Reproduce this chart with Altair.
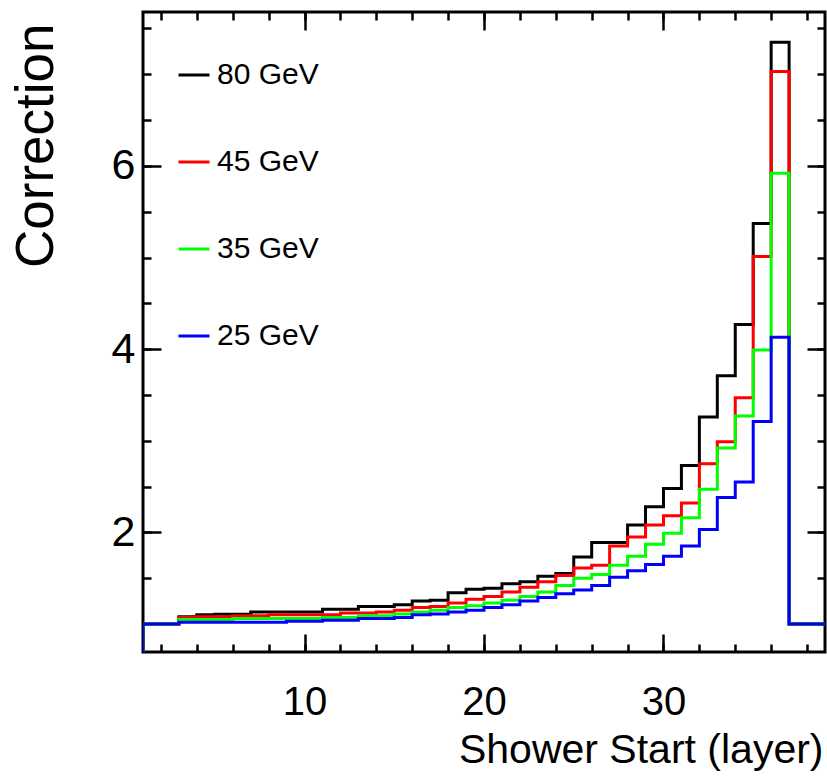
import altair as alt
import pandas as pd

# Shower-start layer bins: bin n covers [n, n+1), layers 1..38
bin_low = list(range(1, 39))

series_names = ["80 GeV", "45 GeV", "35 GeV", "25 GeV"]
series_colors = ["#000000", "#ff0000", "#00ff00", "#0000ff"]

corr_80 = [1.00, 1.00, 1.08, 1.10, 1.105, 1.105, 1.13, 1.13, 1.13, 1.13,
           1.16, 1.16, 1.19, 1.19, 1.21, 1.25, 1.26, 1.34, 1.38, 1.39,
           1.44, 1.46, 1.52, 1.55, 1.73, 1.89, 1.89, 2.08, 2.28, 2.48,
           2.73, 3.26, 3.71, 4.27, 5.37, 7.35, 1.00, 1.00]
corr_45 = [1.00, 1.00, 1.07, 1.08, 1.08, 1.09, 1.09, 1.10, 1.10, 1.10,
           1.10, 1.12, 1.12, 1.13, 1.15, 1.18, 1.19, 1.23, 1.27, 1.30,
           1.35, 1.40, 1.46, 1.53, 1.61, 1.64, 1.85, 1.95, 2.08, 2.18,
           2.32, 2.75, 2.99, 3.47, 5.01, 7.03, 1.00, 1.00]
corr_35 = [1.00, 1.00, 1.05, 1.05, 1.05, 1.06, 1.06, 1.06, 1.06, 1.06,
           1.07, 1.07, 1.09, 1.09, 1.11, 1.13, 1.15, 1.18, 1.20, 1.23,
           1.26, 1.30, 1.35, 1.42, 1.50, 1.54, 1.64, 1.74, 1.87, 1.99,
           2.16, 2.47, 2.92, 3.27, 3.99, 5.92, 1.00, 1.00]
corr_25 = [1.00, 1.00, 1.02, 1.02, 1.02, 1.02, 1.02, 1.02, 1.03, 1.03,
           1.04, 1.04, 1.06, 1.06, 1.07, 1.10, 1.11, 1.13, 1.15, 1.18,
           1.21, 1.25, 1.29, 1.33, 1.37, 1.42, 1.51, 1.58, 1.65, 1.74,
           1.85, 2.03, 2.38, 2.55, 3.21, 4.13, 1.00, 1.00]

x_major = [10, 20, 30]
x_minor = list(range(2, 39, 2))
y_major = [2, 4, 6]
y_minor = [1.0, 1.5, 2.0, 2.5, 3.0, 3.5, 4.0, 4.5, 5.0, 5.5, 6.0, 6.5, 7.0, 7.5]

x_range = [1, 39]
y_range = [0.694, 7.68]

FONT = "Liberation Sans, Arial, Helvetica, sans-serif"

# Build histogram outlines (step-after polylines), starting from the baseline
rows = []
for name, vals in zip(series_names, [corr_80, corr_45, corr_35, corr_25]):
    idx = 0
    rows.append({"series": name, "x": bin_low[0], "y": 0.0, "idx": idx})
    for lo, v in zip(bin_low, vals):
        idx += 1
        rows.append({"series": name, "x": lo, "y": v, "idx": idx})
    rows.append({"series": name, "x": bin_low[-1] + 1, "y": vals[-1], "idx": idx + 1})
df = pd.DataFrame(rows)

xscale = alt.Scale(domain=x_range, nice=False, zero=False)
yscale = alt.Scale(domain=y_range, nice=False, zero=False)


def tick_axis(orient, values, size):
    return alt.Axis(orient=orient, values=values, offset=-size, tickSize=size,
                    tickWidth=2.5, tickColor="black", labels=False,
                    domain=False, grid=False, title=None)


x_label_axis = alt.Axis(
    orient="bottom", values=x_major, ticks=False, domain=False, grid=False,
    format="d", labelFont=FONT, labelFontSize=40, labelColor="black",
    labelPadding=30, labelFlush=False, labelOverlap=False,
    title="Shower Start (layer)", titleFont=FONT, titleFontSize=41,
    titleFontWeight="normal", titleColor="black", titleX=680, titleY=110,
    titleAlign="right", titleBaseline="alphabetic")

y_label_axis = alt.Axis(
    orient="left", values=y_major, ticks=False, domain=False, grid=False,
    format="d", labelFont=FONT, labelFontSize=43, labelColor="black",
    labelPadding=8, labelFlush=False, labelOverlap=False,
    title="Correction", titleFont=FONT, titleFontSize=53,
    titleFontWeight="normal", titleColor="black", titleAngle=270,
    titleX=-91, titleY=11, titleAlign="right", titleBaseline="alphabetic")

legend = alt.Legend(
    title=None, orient="none", legendX=34, legendY=46, padding=0,
    symbolType="stroke", symbolSize=961, symbolStrokeWidth=3,
    labelFont=FONT, labelFontSize=30, labelColor="black",
    labelOffset=6, rowPadding=55, labelLimit=300)

base = alt.Chart(df)

lines = base.mark_line(interpolate="step-after", strokeWidth=3, clip=True).encode(
    x=alt.X("x:Q", scale=xscale, axis=x_label_axis),
    y=alt.Y("y:Q", scale=yscale, axis=y_label_axis),
    color=alt.Color("series:N",
                    scale=alt.Scale(domain=series_names, range=series_colors),
                    sort=series_names, legend=legend),
    order=alt.Order("idx:Q"),
)


def tick_layer(xorient, yorient, xvals, yvals, size):
    return base.mark_point(opacity=0, size=1).encode(
        x=alt.X("x:Q", scale=xscale, axis=tick_axis(xorient, xvals, size)),
        y=alt.Y("y:Q", scale=yscale, axis=tick_axis(yorient, yvals, size)),
    )


chart = alt.layer(
    lines,
    tick_layer("bottom", "left", x_major, y_major, 18),
    tick_layer("bottom", "left", x_minor, y_minor, 8),
    tick_layer("top", "right", x_major, y_major, 18),
    tick_layer("top", "right", x_minor, y_minor, 8),
).resolve_axis(
    x="independent", y="independent"
).properties(
    width=682, height=640,
    autosize=alt.AutoSizeParams(type="none"),
    padding={"left": 143, "top": 12, "right": 2, "bottom": 126},
    background="white",
).configure_view(
    stroke="black", strokeWidth=3
)

chart.save("out.html", embed_options={"renderer": "svg", "actions": False})
